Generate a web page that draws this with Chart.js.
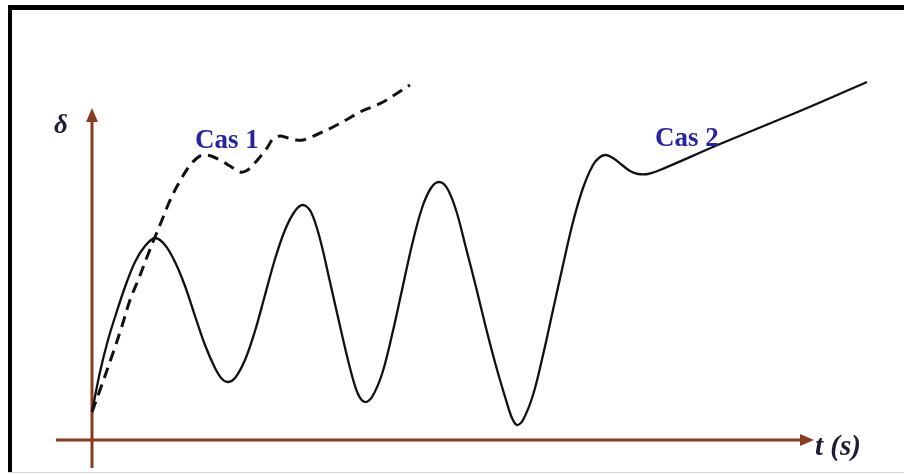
<!DOCTYPE html>
<html>
<head>
<meta charset="utf-8">
<script src="https://cdn.jsdelivr.net/npm/chart.js@4/dist/chart.umd.min.js"></script>
<style>
  html, body { margin: 0; padding: 0; background: #ffffff; }
  #wrap { position: relative; width: 904px; height: 475px; }
</style>
</head>
<body>
<div id="wrap"><canvas id="c"></canvas></div>
<script>
// Rotor angle response δ(t): Cas 2 (oscillating, solid) and Cas 1 (dashed)
const tCas2 = [
  0.00, 0.08, 0.16, 0.24, 0.33, 0.43, 0.53, 0.63, 0.73, 0.83, 0.93, 1.03, 1.13, 1.23, 1.30, 1.36,
  1.43, 1.53, 1.63, 1.73, 1.83, 1.93, 2.03, 2.11, 2.19, 2.28, 2.38, 2.48, 2.58, 2.66, 2.73,
  2.80, 2.90, 3.00, 3.10, 3.20, 3.30, 3.39, 3.47, 3.55, 3.64, 3.74, 3.84, 3.94, 4.04, 4.14, 4.20, 4.25,
  4.31, 4.41, 4.51, 4.61, 4.71, 4.81, 4.91, 5.01, 5.08, 5.14, 5.21, 5.30, 5.38, 5.46, 5.56, 5.68,
  6.28, 7.08, 7.75
];
const deltaCas2 = [
  0.28, 0.68, 1.00, 1.26, 1.53, 1.78, 1.94, 2.02, 1.95, 1.78, 1.54, 1.24, 0.95, 0.72, 0.61, 0.58,
  0.62, 0.80, 1.09, 1.45, 1.81, 2.10, 2.29, 2.35, 2.28, 2.01, 1.58, 1.14, 0.72, 0.46, 0.38,
  0.43, 0.66, 1.05, 1.50, 1.95, 2.32, 2.52, 2.58, 2.52, 2.30, 1.92, 1.53, 1.12, 0.74, 0.40, 0.22, 0.15,
  0.20, 0.45, 0.85, 1.30, 1.75, 2.18, 2.52, 2.75, 2.83, 2.85, 2.82, 2.75, 2.69, 2.66, 2.66, 2.70,
  2.96, 3.29, 3.58
];

const tCas1 = [
  0.00, 0.08, 0.21, 0.30, 0.38, 0.47, 0.55, 0.63, 0.70, 0.76, 0.82, 0.88, 0.96, 1.05, 1.11, 1.19,
  1.28, 1.38, 1.48, 1.54, 1.60, 1.68, 1.75, 1.81, 1.88, 1.96, 2.04, 2.11, 2.26, 2.41, 2.54, 2.68,
  2.80, 2.91, 3.04, 3.18
];
const deltaCas1 = [
  0.28, 0.50, 0.87, 1.14, 1.40, 1.62, 1.83, 2.03, 2.20, 2.35, 2.48, 2.59, 2.72, 2.82, 2.85, 2.84,
  2.80, 2.74, 2.68, 2.69, 2.74, 2.83, 2.92, 3.01, 3.04, 3.02, 3.00, 3.00, 3.06, 3.13, 3.20, 3.28,
  3.33, 3.38, 3.46, 3.55
];

// Axis extents (data units) and label texts
const tAxis = [-0.36, 7.22];
const deltaAxis = [-0.28, 3.32];
const labelCas1 = 'Cas 1';
const labelCas2 = 'Cas 2';
const labelDelta = 'δ';
const labelT = 't (s)';

const toPoints = (xs, ys) => xs.map((x, i) => ({ x: x, y: ys[i] }));

const AXIS_COLOR = '#8a3a1c';
const TEXT_DARK = '#1c1c36';
const TEXT_BLUE = '#2424a4';

// Black frame around the figure
const framePlugin = {
  id: 'frame',
  beforeDraw(chart) {
    const ctx = chart.ctx;
    ctx.save();
    ctx.fillStyle = '#ffffff';
    ctx.fillRect(0, 0, chart.width, chart.height);
    ctx.fillStyle = '#000000';
    ctx.fillRect(8, 5, chart.width - 8, 5);
    ctx.fillRect(8, 5, 4, 468);
    ctx.fillStyle = '#d4d4d4';
    ctx.fillRect(8, 472, chart.width - 8, 1);
    ctx.restore();
  }
};

// Brown coordinate axes with arrowheads, placed through the scales
const axesPlugin = {
  id: 'arrowAxes',
  beforeDatasetsDraw(chart) {
    const ctx = chart.ctx;
    const xs = chart.scales.x, ys = chart.scales.y;
    const x0 = xs.getPixelForValue(0), y0 = ys.getPixelForValue(0);
    const xL = xs.getPixelForValue(tAxis[0]), xR = xs.getPixelForValue(tAxis[1]);
    const yB = ys.getPixelForValue(deltaAxis[0]), yT = ys.getPixelForValue(deltaAxis[1]);
    const head = 14, half = 6;
    ctx.save();
    ctx.strokeStyle = AXIS_COLOR;
    ctx.fillStyle = AXIS_COLOR;
    ctx.lineWidth = 3;
    ctx.beginPath();
    ctx.moveTo(xL, y0); ctx.lineTo(xR - head + 2, y0);
    ctx.moveTo(x0, yB); ctx.lineTo(x0, yT + head - 2);
    ctx.stroke();
    ctx.beginPath();
    ctx.moveTo(xR, y0); ctx.lineTo(xR - head, y0 - half); ctx.lineTo(xR - head, y0 + half); ctx.closePath();
    ctx.fill();
    ctx.beginPath();
    ctx.moveTo(x0, yT); ctx.lineTo(x0 - half, yT + head); ctx.lineTo(x0 + half, yT + head); ctx.closePath();
    ctx.fill();
    ctx.restore();
  }
};

// Axis names and curve labels
const textPlugin = {
  id: 'texts',
  afterDatasetsDraw(chart) {
    const ctx = chart.ctx;
    ctx.save();
    ctx.textBaseline = 'alphabetic';
    ctx.textAlign = 'left';
    ctx.fillStyle = TEXT_DARK;
    ctx.font = 'italic bold 27px "Liberation Serif", "DejaVu Serif", serif';
    ctx.fillText(labelDelta, 54, 133);
    ctx.font = 'italic bold 29px "Liberation Serif", "DejaVu Serif", serif';
    ctx.fillText(labelT, 815, 455);
    ctx.fillStyle = TEXT_BLUE;
    ctx.font = 'bold 27px "Liberation Serif", "DejaVu Serif", serif';
    ctx.fillText(labelCas1, 195, 148);
    ctx.fillText(labelCas2, 655, 146);
    ctx.restore();
  }
};

new Chart(document.getElementById('c'), {
  type: 'line',
  data: {
    datasets: [
      {
        label: labelCas2,
        data: toPoints(tCas2, deltaCas2),
        borderColor: '#111111',
        borderWidth: 2.3,
        pointRadius: 0,
        tension: 0.35,
        fill: false,
        clip: false
      },
      {
        label: labelCas1,
        data: toPoints(tCas1, deltaCas1),
        borderColor: '#111111',
        borderWidth: 3,
        borderDash: [11, 7],
        pointRadius: 0,
        tension: 0.35,
        fill: false,
        clip: false
      }
    ]
  },
  options: {
    responsive: true,
    maintainAspectRatio: false,
    animation: false,
    events: [],
    layout: { padding: 0, autoPadding: false },
    plugins: { legend: { display: false }, tooltip: { enabled: false }, title: { display: false } },
    scales: {
      x: { type: 'linear', min: -0.92, max: 8.12, display: false },
      y: { type: 'linear', min: -0.35, max: 4.40, display: false }
    }
  },
  plugins: [framePlugin, axesPlugin, textPlugin]
});
</script>
</body>
</html>
